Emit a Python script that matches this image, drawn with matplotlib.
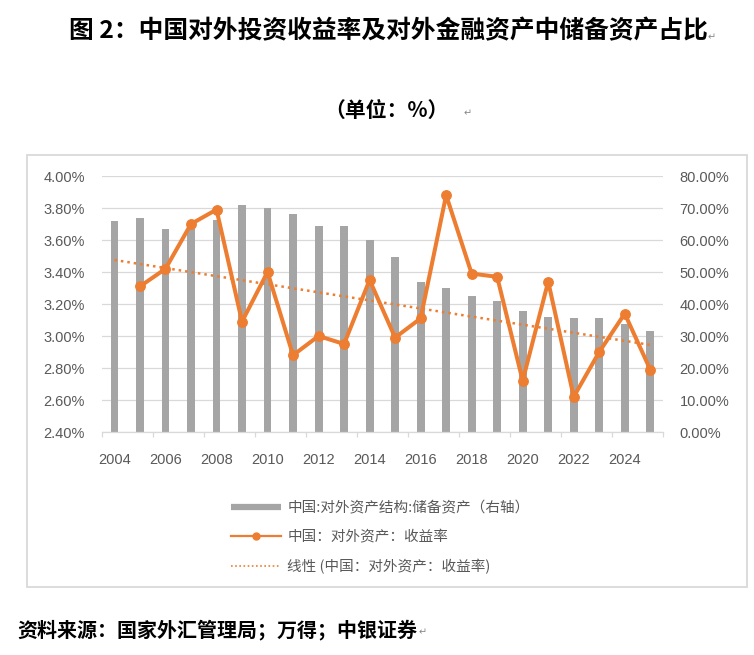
import matplotlib
matplotlib.use("Agg")
import matplotlib.pyplot as plt
import numpy as np
from matplotlib.lines import Line2D
from matplotlib.patches import Rectangle
from matplotlib.ticker import FuncFormatter

plt.rcParams['font.family'] = ['Noto Sans CJK SC', 'DejaVu Sans']

# 数据
years = list(range(2004, 2026))
reserve_share = [65.9, 66.9, 63.4, 63.3, 66.3, 70.9, 70.0, 68.1, 64.4, 64.4, 60.0,
                 54.7, 46.9, 45.0, 42.5, 40.9, 37.8, 35.9, 35.6, 35.6, 33.8, 31.6]
yield_rate = [np.nan, 3.31, 3.42, 3.70, 3.79, 3.09, 3.40, 2.88, 3.00, 2.95, 3.35,
              2.99, 3.11, 3.88, 3.39, 3.37, 2.72, 3.34, 2.62, 2.90, 3.14, 2.79]

title = "图 2：中国对外投资收益率及对外金融资产中储备资产占比"
subtitle = "（单位：%）"
source = "资料来源：国家外汇管理局；万得；中银证券"
label_bar = "中国:对外资产结构:储备资产（右轴）"
label_line = "中国：对外资产：收益率"
label_trend = "线性 (中国：对外资产：收益率)"

ORANGE = '#ED7D31'
GRAY = '#A5A5A5'
GRID = '#D9D9D9'
TXT = '#595959'

W, H = 754, 655
fig = plt.figure(figsize=(W / 100, H / 100), dpi=100)

# 外框
fig.add_artist(Rectangle((27 / W, 1 - 587 / H), 720 / W, 432 / H, transform=fig.transFigure,
                         fill=False, edgecolor=GRID, lw=1.3))

ax = fig.add_axes([101.7 / W, 1 - 432 / H, 561.3 / W, 256 / H])
ax2 = ax.twinx()
ax.set_zorder(2)
ax2.set_zorder(1)
ax.patch.set_visible(False)

x = np.arange(len(years))

# 柱：储备资产占比（右轴）
ax2.bar(x, reserve_share, width=0.31, color=GRAY, zorder=2)
ax2.set_ylim(0, 80)
ax2.set_yticks(np.arange(0, 81, 10))
ax2.yaxis.set_major_formatter(FuncFormatter(lambda v, p: f"{v:.2f}%"))
ax2.grid(axis='y', color=GRID, lw=0.9)
ax2.set_axisbelow(True)

# 折线：收益率（左轴）
ax.plot(x, yield_rate, color=ORANGE, lw=2.9, marker='o', ms=6.8, zorder=3)

# 线性趋势
y = np.array(yield_rate)
ok = ~np.isnan(y)
k, b = np.polyfit(x[ok], y[ok], 1)
ax.plot(x, k * x + b, color=ORANGE, lw=1.8, ls=(0, (1, 1.6)), zorder=2)

ax.set_ylim(2.4, 4.0)
ax.set_yticks(np.arange(2.4, 4.01, 0.2))
ax.yaxis.set_major_formatter(FuncFormatter(lambda v, p: f"{v:.2f}%"))

ax.set_xlim(-0.5, len(years) - 0.5)
ax.set_xticks(x[::2])
ax.set_xticklabels([str(yr) for yr in years[::2]])
ax.set_xticks(np.arange(-0.5, len(years), 2), minor=True)
ax.tick_params(axis='x', which='major', length=0, pad=15)
ax.tick_params(axis='x', which='minor', length=3.6, color=GRID, width=0.9)

for a in (ax, ax2):
    for s in a.spines.values():
        s.set_visible(False)
    a.tick_params(axis='y', length=0, pad=12)
    for lab in a.get_yticklabels() + a.get_xticklabels():
        lab.set_family('Liberation Sans')
        lab.set_fontsize(10.5)
        lab.set_color(TXT)
ax.spines['bottom'].set_visible(True)
ax.spines['bottom'].set_color(GRID)
ax.spines['bottom'].set_linewidth(0.9)

# 图例
handles = [
    Line2D([], [], color=GRAY, lw=4.5, solid_capstyle='butt'),
    Line2D([], [], color=ORANGE, lw=1.6, marker='o', ms=5),
    Line2D([], [], color=ORANGE, lw=1.2, ls=(0, (1, 1.5))),
]
leg = fig.legend(handles, [label_bar, label_line, label_trend], loc='upper left',
                 bbox_to_anchor=(231 / W, 1 - 501 / H), frameon=False, fontsize=10.5,
                 handlelength=3.4, handletextpad=0.45, labelspacing=1.02,
                 borderpad=0, borderaxespad=0, numpoints=1)
for t in leg.get_texts():
    t.set_color(TXT)

# 标题与来源
fig.text(388 / W, 1 - 31 / H, title, ha='center', va='center', fontsize=17.8, weight='bold')
fig.text(708 / W, 1 - 37 / H, "↵", ha='left', va='center', fontsize=7, color='#888888',
         family=['DejaVu Sans'])
fig.text(386 / W, 1 - 110 / H, subtitle, ha='center', va='center', fontsize=15, weight='bold')
fig.text(464 / W, 1 - 113 / H, "↵", ha='left', va='center', fontsize=7, color='#888888',
         family=['DejaVu Sans'])
fig.text(17 / W, 1 - 630 / H, source, ha='left', va='center', fontsize=14.4, weight='bold')
fig.text(419 / W, 1 - 632 / H, "↵", ha='left', va='center', fontsize=7, color='#888888',
         family=['DejaVu Sans'])

fig.savefig('out.png', dpi=100)
